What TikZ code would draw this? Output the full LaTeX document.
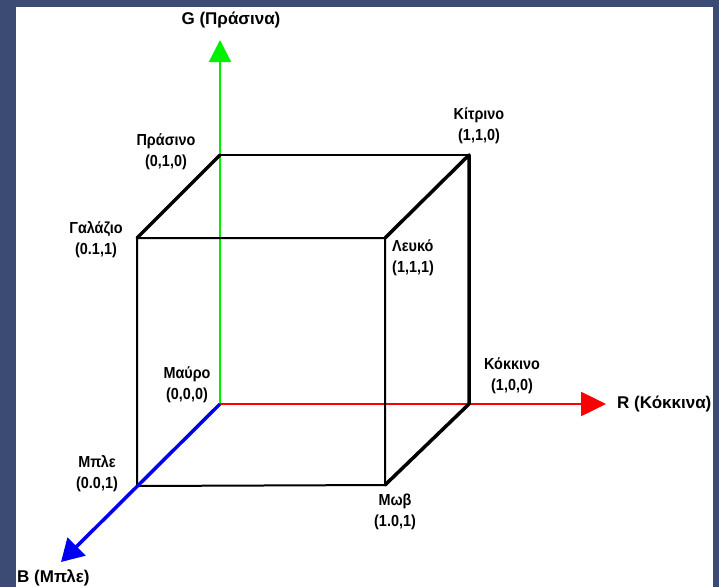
\documentclass[tikz,border=0pt]{standalone}
\usepackage{fontspec}
\setmainfont{Liberation Sans}
\newfontfamily\lblfont{Liberation Sans}[FakeStretch=0.9]
\usetikzlibrary{arrows.meta}
\definecolor{bgblue}{RGB}{59,75,115}
\definecolor{axgreen}{RGB}{0,240,0}
\definecolor{axred}{RGB}{250,0,0}
\definecolor{axblue}{RGB}{0,0,240}
\tikzset{
  lbl/.style={inner sep=0pt, align=center, font=\lblfont\bfseries\fontsize{16}{21}\selectfont},
  axlbl/.style={inner sep=0pt, font=\bfseries\fontsize{17}{20}\selectfont},
  thinedge/.style={line width=2pt, black, line cap=round, line join=round},
  midedge/.style={line width=2.5pt, black, line cap=round, line join=round},
  thickedge/.style={line width=3.5pt, black, line cap=round, line join=round},
}
\begin{document}
\begin{tikzpicture}[x=1pt,y=-1pt]
\useasboundingbox (0,0) rectangle (719,587);
\fill[bgblue] (0,0) rectangle (719,587);
\fill[white] (16,7) rectangle (713,587);
% corners
\coordinate (K) at (220,404);   % black 000
\coordinate (G) at (220,155);   % green 010
\coordinate (C) at (137,238);   % cyan 011
\coordinate (Y) at (469,155);   % yellow 110
\coordinate (W) at (385,238);   % white 111
\coordinate (R) at (469,404);   % red 100
\coordinate (M) at (385,485);   % magenta 101
\coordinate (B) at (137,486);   % blue 001
% axis ends
\coordinate (Gend) at (220,40);
\coordinate (Rend) at (606,404);
\coordinate (Bend) at (61,562);
% axes
\draw[axgreen, line width=2.2pt, -{Triangle[width=22pt,length=22pt]}] (K) -- (Gend);
\draw[axred, line width=2.5pt, -{Triangle[width=24pt,length=25pt]}] (K) -- (Rend);
% cube
\draw[midedge] (G) -- (Y);
\draw[thickedge] (C) -- (G);
\draw[thickedge] (W) -- (Y) -- (R) -- (M);
\draw[thinedge] (C) -- (W) -- (M) -- (B) -- cycle;
\draw[axblue, line width=3.5pt, -{Triangle[width=25pt,length=22pt]}] (K) -- (Bend);
% labels
\node[axlbl] (lG) at (231,20) {G (Πράσινα)};
\node[axlbl, anchor=west] (lR) at (617,404) {R (Κόκκινα)};
\node[axlbl, anchor=west] (lB) at (17,578) {B (Μπλε)};
\node[lbl] (lgreen) at (166,152) {Πράσινο\\(0,1,0)};
\node[lbl] (lcyan) at (96,240) {Γαλάζιο\\(0.1,1)};
\node[lbl] (lyellow) at (479,126) {Κίτρινο\\(1,1,0)};
\node[lbl, align=left, anchor=west] (lwhite) at (392,258) {Λευκό\\(1,1,1)};
\node[lbl] (lblack) at (187,385) {Μαύρο\\(0,0,0)};
\node[lbl] (lblue) at (97,474) {Μπλε\\(0.0,1)};
\node[lbl] (lred) at (512,376) {Κόκκινο\\(1,0,0)};
\node[lbl] (lmag) at (395,512) {Μωβ\\(1.0,1)};
\end{tikzpicture}
\end{document}
